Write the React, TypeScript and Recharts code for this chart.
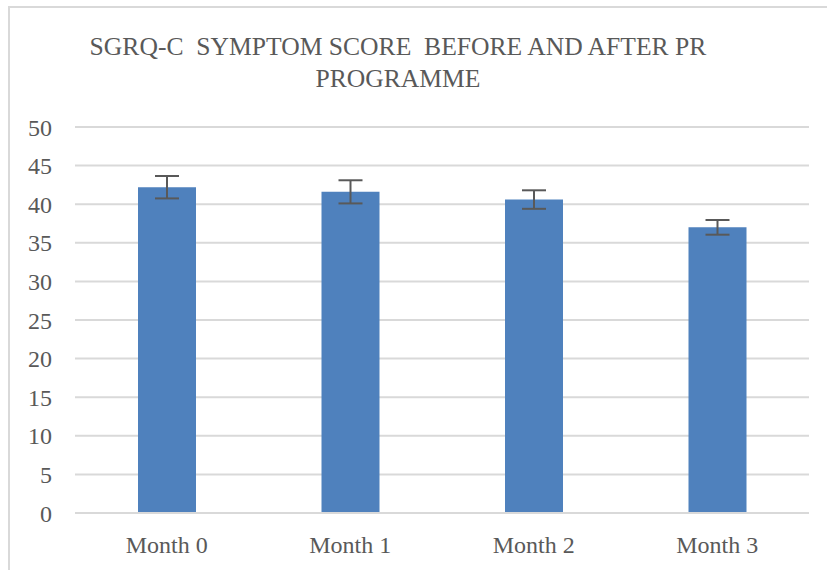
import { Bar, BarChart, CartesianGrid, ErrorBar, XAxis, YAxis } from "recharts";

const months = ["Month 0", "Month 1", "Month 2", "Month 3"];
const meanScores = [42.2, 41.6, 40.6, 37.0];
const scoreErrors = [1.45, 1.5, 1.2, 0.95];
const yTicks = [0, 5, 10, 15, 20, 25, 30, 35, 40, 45, 50];

const titleLines = ["SGRQ-C\u00a0 SYMPTOM SCORE\u00a0 BEFORE AND AFTER PR", "PROGRAMME"];

const data = months.map((month, i) => ({
  month,
  score: meanScores[i],
  err: scoreErrors[i]
}));

const FONT = '"Liberation Serif", "DejaVu Serif", serif';
const TEXT = "#595959";
const GRID = "#d9d9d9";

export default function App() {
  return (
    <div
      style={{
        position: "absolute",
        left: 0,
        top: 0,
        width: 827,
        height: 570,
        background: "#fff",
        overflow: "hidden",
        fontFamily: FONT
      }}
    >
      <div
        style={{
          position: "absolute",
          left: 8,
          top: 6,
          width: 840,
          height: 600,
          borderLeft: `2px solid ${GRID}`,
          borderTop: `2px solid ${GRID}`
        }}
      />
      <div
        style={{
          position: "absolute",
          left: 0,
          top: 31,
          width: 796,
          textAlign: "center",
          color: TEXT,
          fontSize: 25.6,
          lineHeight: "32px"
        }}
      >
        {titleLines.map((line) => (
          <div key={line}>{line}</div>
        ))}
      </div>
      <BarChart
        width={827}
        height={570}
        data={data}
        margin={{ top: 127, right: 18, bottom: 27, left: 0 }}
        style={{ position: "absolute", left: 0, top: 0 }}
      >
        <CartesianGrid vertical={false} stroke={GRID} strokeWidth={2} />
        <XAxis
          dataKey="month"
          axisLine={{ stroke: GRID, strokeWidth: 2 }}
          tickLine={false}
          tickMargin={17}
          tick={{ fill: TEXT, fontSize: 24, fontFamily: FONT }}
        />
        <YAxis
          domain={[0, 50]}
          ticks={yTicks}
          width={75}
          axisLine={false}
          tickLine={false}
          tickMargin={17}
          tick={{ fill: TEXT, fontSize: 24, fontFamily: FONT }}
        />
        <Bar dataKey="score" fill="#4f81bd" barSize={58} isAnimationActive={false}>
          <ErrorBar dataKey="err" width={12} strokeWidth={2} stroke="#595959" />
        </Bar>
      </BarChart>
    </div>
  );
}
